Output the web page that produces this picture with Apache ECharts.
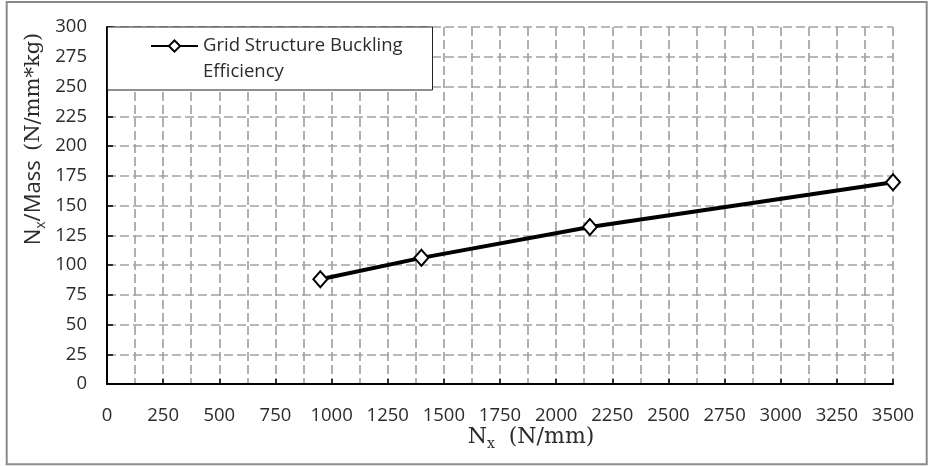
<!DOCTYPE html>
<html>
<head>
<meta charset="utf-8">
<script src="https://cdn.jsdelivr.net/npm/echarts@6/dist/echarts.min.js"></script>
<style>
  html, body { margin: 0; padding: 0; background: #fff; }
  #chart { width: 931px; height: 466px; }
</style>
</head>
<body>
<div id="chart"></div>
<script>
// Applied load Nx (N/mm) and buckling efficiency Nx/Mass (N/mm*kg)
const loadNx = [950, 1400, 2150, 3500];
const efficiency = [88, 106, 132, 169.5];
const seriesName = 'Grid Structure Buckling\nEfficiency';
const xTicks = { min: 0, max: 3500, step: 250 };
const yTicks = { min: 0, max: 300, step: 25 };

const points = loadNx.map((x, i) => [x, efficiency[i]]);

const gridLine = { color: '#a3a3a3', width: 1.7, type: [9, 4] };
const labelFont = { fontFamily: 'Open Sans', fontSize: 18.5, color: '#2b2b2b' };
const plainNumber = v => String(v);

const chart = echarts.init(document.getElementById('chart'), null, { renderer: 'canvas' });
chart.setOption({
  animation: false,
  backgroundColor: '#fff',
  grid: {
    left: 107, right: 38, top: 27, bottom: 82,
    containLabel: false, outerBoundsMode: 'none'
  },
  xAxis: {
    type: 'value',
    min: xTicks.min, max: xTicks.max, interval: xTicks.step,
    axisLine: { show: true, onZero: false, lineStyle: { color: '#000', width: 2 } },
    axisTick: { show: true, inside: true, length: 5, lineStyle: { color: '#000', width: 1.5 } },
    minorTick: { show: false, splitNumber: 2 },
    axisLabel: Object.assign({ margin: 22, formatter: plainNumber }, labelFont),
    splitLine: { show: true, lineStyle: gridLine },
    minorSplitLine: { show: true, lineStyle: gridLine }
  },
  yAxis: {
    type: 'value',
    min: yTicks.min, max: yTicks.max, interval: yTicks.step,
    axisLine: { show: true, onZero: false, lineStyle: { color: '#000', width: 2 } },
    axisTick: { show: true, inside: true, length: 6, lineStyle: { color: '#000', width: 1.5 } },
    axisLabel: Object.assign({ margin: 20, formatter: plainNumber }, labelFont),
    splitLine: { show: true, lineStyle: gridLine }
  },
  legend: {
    show: true,
    left: 150, top: 7,
    padding: 0,
    itemWidth: 47, itemHeight: 14,
    itemGap: 0,
    // leading blank line keeps the first text line level with the icon
    formatter: name => '\n' + name,
    textStyle: {
      fontFamily: 'Open Sans', fontSize: 18.5, color: '#2b2b2b', lineHeight: 26
    },
    data: [seriesName]
  },
  graphic: [
    {
      type: 'rect', z: 3, silent: true,
      shape: { x: 107.5, y: 27, width: 325, height: 63 },
      style: { fill: '#fff', stroke: '#222', lineWidth: 1 }
    },
    {
      type: 'text', z: 5, silent: true,
      x: 34, y: 139, rotation: Math.PI / 2,
      style: {
        text: '{s|N}{sub|x}{s|/Mass}{sp|  }{r|(N/mm*kg)}',
        align: 'center', verticalAlign: 'middle',
        rich: {
          s: { fontFamily: 'Open Sans', fontSize: 22, fill: '#2b2b2b', lineHeight: 28 },
          sub: { fontFamily: 'Open Sans', fontSize: 14, fill: '#2b2b2b', lineHeight: 14, verticalAlign: 'bottom' },
          sp: { fontFamily: 'Open Sans', fontSize: 18, lineHeight: 28 },
          r: { fontFamily: 'DejaVu Serif', fontSize: 21, fill: '#2b2b2b', lineHeight: 28 }
        }
      }
    },
    {
      type: 'text', z: 5, silent: true,
      x: 531, y: 437,
      style: {
        text: '{n|N}{sub|x}{n|  (N/mm)}',
        align: 'center', verticalAlign: 'middle',
        rich: {
          n: { fontFamily: 'DejaVu Serif', fontSize: 22, fill: '#2b2b2b', lineHeight: 28 },
          sub: { fontFamily: 'DejaVu Serif', fontSize: 14, fill: '#2b2b2b', lineHeight: 14, verticalAlign: 'bottom' }
        }
      }
    },
    {
      type: 'rect', z: 5, silent: true,
      shape: { x: 6.7, y: 2, width: 920, height: 462.3 },
      style: { fill: 'none', stroke: '#8a8a8a', lineWidth: 2 }
    }
  ],
  series: [
    {
      name: seriesName,
      type: 'line',
      data: points,
      symbol: 'emptyDiamond',
      symbolSize: [14, 16],
      showAllSymbol: true,
      lineStyle: { color: '#000', width: 4 },
      itemStyle: { color: '#000', borderColor: '#000', borderWidth: 2 },
      z: 4
    }
  ]
});
</script>
</body>
</html>
